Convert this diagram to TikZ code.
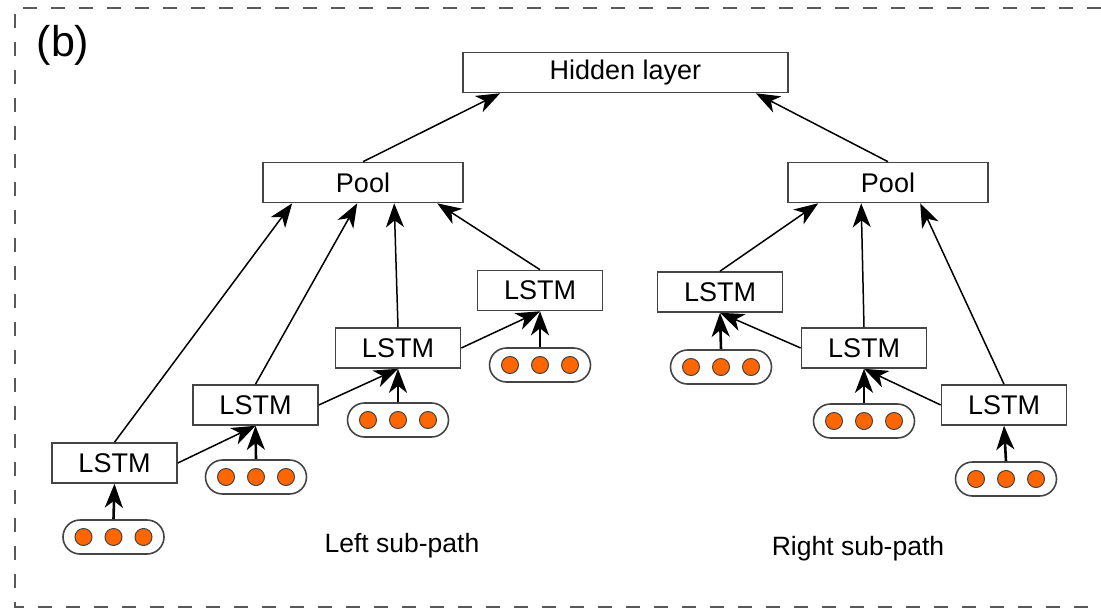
\documentclass[tikz,border=0pt]{standalone}
\usepackage{fontspec}
\setmainfont{Liberation Sans}
\usetikzlibrary{arrows.meta}

\definecolor{dotorange}{HTML}{FF6600}
\definecolor{edgegray}{HTML}{444444}

\tikzset{
  blk/.style={draw=edgegray, line width=1.6pt, fill=white, minimum height=40pt,
              inner sep=0pt, font=\fontsize{27}{30}\selectfont},
  lstm/.style={blk, minimum width=125pt},
  pool/.style={blk, minimum width=200pt},
  pill/.style={draw=edgegray, line width=1.6pt, rounded corners=17pt,
               minimum width=101pt, minimum height=34pt, inner sep=0pt},
  dot/.style={draw=edgegray, line width=1pt, fill=dotorange},
  link/.style={-{Stealth[length=24pt,width=18pt,inset=7pt]}, line width=1.5pt},
  feed/.style={link, line width=2.6pt},
  lbl/.style={font=\fontsize{26.5}{30}\selectfont},
}

\begin{document}
\begin{tikzpicture}[x=1pt,y=-1pt]

  \useasboundingbox (0,0) rectangle (1101,613);

  % dashed frame, open on the right
  \draw[gray!70!black, line width=2pt, dash pattern=on 14pt off 14pt]
    (1101,8) -- (15,8) -- (15,607) -- (1101,607);

  \node[font=\fontsize{43}{46}\selectfont] (tag) at (63,45) {(b)};

  % top level
  \node[blk, minimum width=325pt] (hid) at (625.5,72.5) {Hidden layer};
  \node[pool] (lpool) at (363,182.5) {Pool};
  \node[pool] (rpool) at (888,182.5) {Pool};

  % left sub-path
  \node[lstm] (l1) at (114.5,463) {LSTM};
  \node[lstm] (l2) at (255.5,405) {LSTM};
  \node[lstm] (l3) at (398,348) {LSTM};
  \node[lstm] (l4) at (540,290.5) {LSTM};

  % right sub-path
  \node[lstm] (r1) at (720,292) {LSTM};
  \node[lstm] (r2) at (864,348) {LSTM};
  \node[lstm] (r3) at (1004,405) {LSTM};

  % inputs
  \node[pill] (il1) at (113.5,537) {};
  \node[pill] (il2) at (256,477) {};
  \node[pill] (il3) at (398,420) {};
  \node[pill] (il4) at (540,365) {};
  \node[pill] (ir1) at (721,367) {};
  \node[pill] (ir2) at (864,421) {};
  \node[pill] (ir3) at (1006,479) {};

  \foreach \p in {il1,il2,il3,il4,ir1,ir2,ir3}
    \foreach \d in {-30,0,30}
      \draw[dot] ([xshift=\d pt]\p.center) circle (8.5pt);

  \node[lbl] (lname) at (402,546) {Left sub-path};
  \node[lbl] (rname) at (858,549) {Right sub-path};

  % pools to hidden layer
  \draw[link] (lpool.north) -- ([xshift=38pt]hid.south west);
  \draw[link] (rpool.north) -- ([xshift=-33pt]hid.south east);

  % left LSTMs to pool
  \draw[link] (l1.north) -- ([xshift=30pt]lpool.south west);
  \draw[link] (l2.north) -- ([xshift=95pt]lpool.south west);
  \draw[link] (l3.north) -- ([xshift=132pt]lpool.south west);
  \draw[link] (l4.north) -- ([xshift=175pt]lpool.south west);

  % right LSTMs to pool
  \draw[link] (r1.north) -- ([xshift=31pt]rpool.south west);
  \draw[link] (r2.north) -- ([xshift=74pt]rpool.south west);
  \draw[link] (r3.north) -- ([xshift=133pt]rpool.south west);

  % chain along each sub-path
  \draw[link] (l1.east) -- (l2.south);
  \draw[link] (l2.east) -- (l3.south);
  \draw[link] (l3.east) -- (l4.south);
  \draw[link] (r2.west) -- (r1.south);
  \draw[link] (r3.west) -- (r2.south);

  % inputs into LSTMs
  \foreach \a/\b in {il1/l1,il2/l2,il3/l3,il4/l4,ir1/r1,ir2/r2,ir3/r3}
    \draw[feed] (\a.north) -- (\b.south);

\end{tikzpicture}
\end{document}
